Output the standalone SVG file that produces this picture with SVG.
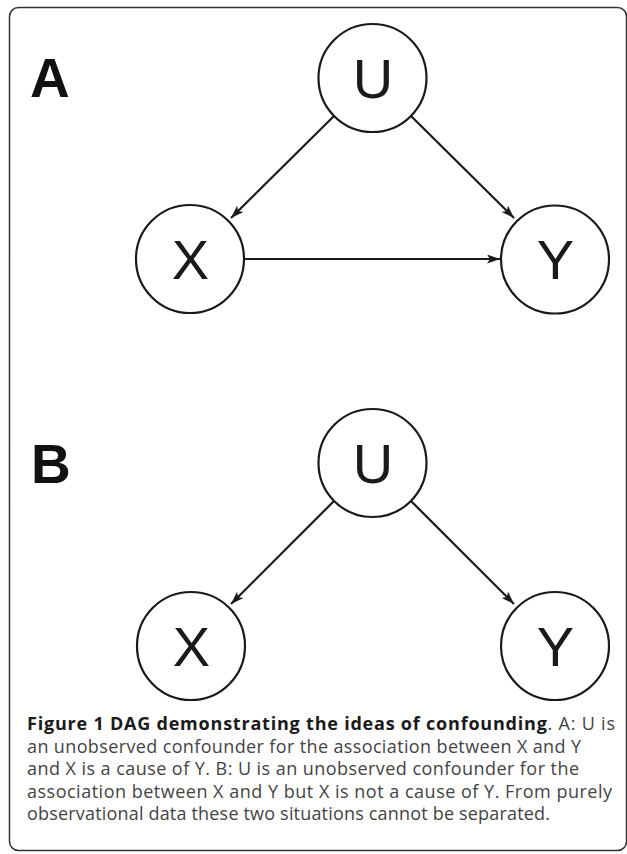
<svg xmlns="http://www.w3.org/2000/svg" width="627" height="854" viewBox="0 0 627 854">
  <defs>
    <marker id="arr" markerUnits="userSpaceOnUse" markerWidth="14" markerHeight="10" refX="13" refY="4.5" orient="auto">
      <path d="M0,0 L13,4.5 L0,9 L3,4.5 z" fill="#1a1a1a"/>
    </marker>
    <style>
      .node circle { fill: #fff; stroke: #1a1a1a; stroke-width: 2.2; }
      .node text { font-family: "Liberation Sans", Arial, sans-serif; font-size: 56px; fill: #1a1a1a; text-anchor: middle; }
      .edge { stroke: #1a1a1a; stroke-width: 2.2; fill: none; marker-end: url(#arr); }
      .panel { font-family: "Liberation Sans", Arial, sans-serif; font-weight: bold; font-size: 55px; fill: #111; }
      .cap { font-family: "Open Sans", "Noto Sans", sans-serif; font-size: 18px; fill: #444; }
      .capb { font-weight: bold; fill: #1a1a1a; }
    </style>
  </defs>
  <rect x="0" y="0" width="627" height="854" fill="#fff"/>
  <rect id="frame" x="9.5" y="7.5" width="617" height="843" rx="9" ry="9" fill="none" stroke="#333" stroke-width="1.5"/>

  <text class="panel" x="30" y="97">A</text>
  <text class="panel" x="31" y="483">B</text>

  <g id="connectors">
    <line class="edge" x1="334" y1="116" x2="231" y2="218"/>
    <line class="edge" x1="411" y1="116" x2="514" y2="218"/>
    <line class="edge" x1="244" y1="259" x2="500" y2="259"/>
    <line class="edge" x1="334" y1="501" x2="231" y2="604"/>
    <line class="edge" x1="411" y1="501" x2="514" y2="604"/>
  </g>

  <g id="A_U" class="node"><circle cx="372.5" cy="78" r="54"/><text x="373" y="98">U</text></g>
  <g id="A_X" class="node"><circle cx="190" cy="259" r="54"/><text x="190.5" y="279">X</text></g>
  <g id="A_Y" class="node"><circle cx="555" cy="259.5" r="54"/><text x="555.5" y="279">Y</text></g>

  <g id="B_U" class="node"><circle cx="372.5" cy="463" r="54"/><text x="373" y="483">U</text></g>
  <g id="B_X" class="node"><circle cx="191" cy="646" r="54"/><text x="191.5" y="666">X</text></g>
  <g id="B_Y" class="node"><circle cx="555" cy="646" r="54"/><text x="555.5" y="666">Y</text></g>

  <g id="caption" class="cap">
    <text x="27" y="730" textLength="588" lengthAdjust="spacing"><tspan class="capb">Figure 1 DAG demonstrating the ideas of confounding</tspan>. A: U is</text>
    <text x="27" y="752.5" textLength="554" lengthAdjust="spacing">an unobserved confounder for the association between X and Y</text>
    <text x="27" y="775" textLength="552" lengthAdjust="spacing">and X is a cause of Y. B: U is an unobserved confounder for the</text>
    <text x="27" y="797.5" textLength="585" lengthAdjust="spacing">association between X and Y but X is not a cause of Y. From purely</text>
    <text x="27" y="820" textLength="523" lengthAdjust="spacing">observational data these two situations cannot be separated.</text>
  </g>
</svg>
